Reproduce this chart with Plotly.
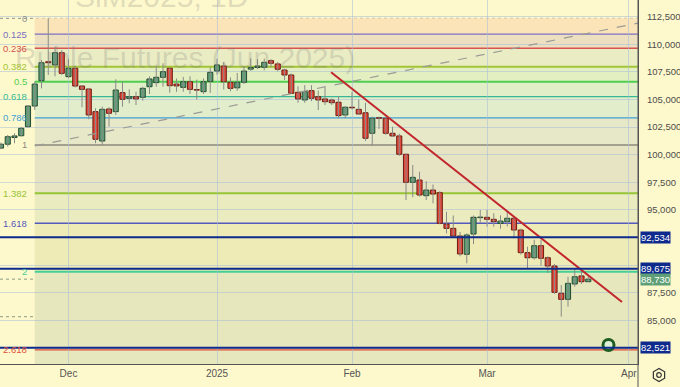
import math
import plotly.graph_objects as go
import pandas as pd

# ---------------- data ----------------
holidays = ["2025-01-01", "2025-01-02", "2025-01-07"]
dates = [d.strftime("%Y-%m-%d") for d in pd.bdate_range("2024-11-18", "2025-03-24")
         if d.strftime("%Y-%m-%d") not in holidays]
future_dates = [d.strftime("%Y-%m-%d") for d in pd.bdate_range("2025-03-25", "2025-04-30")]

open_ = [100600, 100950, 101560, 101720, 102540, 104410, 106700, 108420, 108130, 109240,
         107070, 107830, 106220, 105950, 103900, 101240, 104140, 103900, 105620, 105100,
         105250, 105200, 106160, 106530, 107010, 107830, 106400, 106100, 106610, 105900,
         105710, 106640, 107580, 108030, 106560, 106060, 106560, 107750, 107900, 107920,
         108520, 108220, 107670, 107220, 105650, 104960, 105800, 105250, 105050, 104950,
         104750, 103600, 104300, 104110, 103800, 101940, 103350, 103300, 101940, 101700,
         100040, 97500, 97710, 96290, 96800, 96560, 93720, 93330, 92640, 90980,
         92820, 94300, 94330, 94150, 93780, 93940, 94240, 93180, 91130, 90670,
         91760, 90670, 89920, 87450, 86900, 88290, 89020, 88500]
high = [101100, 101790, 101940, 102500, 104500, 106610, 108580, 112350, 109780, 109480,
        108650, 108050, 106300, 106050, 104200, 104350, 104300, 106830, 106610, 105920,
        105700, 106150, 107100, 108030, 108280, 107850, 106900, 107050, 107100, 106800,
        106900, 107900, 108700, 108400, 107000, 107400, 108000, 108730, 108650, 108700,
        108650, 108400, 107800, 107350, 106200, 106300, 106300, 105800, 106100, 105100,
        105300, 104400, 105700, 105000, 104710, 103450, 103450, 103450, 102540, 101900,
        100100, 99070, 98460, 97600, 97300, 96700, 94840, 94500, 93000, 92880,
        94500, 95000, 95000, 94700, 94500, 94900, 94390, 93300, 91670, 92300,
        92300, 90800, 90100, 88200, 88950, 89710, 89500, 89050]
low = [100500, 100730, 101040, 101650, 102450, 104050, 106010, 107220, 107100, 107220,
       106950, 106100, 104300, 103210, 101040, 100880, 102540, 103600, 104350, 104660,
       104500, 104900, 105500, 106160, 106160, 105620, 105700, 105700, 105500, 105000,
       105500, 105600, 107250, 105900, 105750, 105800, 106400, 107600, 107750, 107650,
       107900, 107550, 106770, 105500, 104700, 104700, 104850, 104050, 104500, 104500,
       103300, 103300, 104100, 103600, 101250, 100800, 102330, 101800, 101600, 99900,
       95900, 96150, 96200, 95900, 95600, 93700, 92880, 92500, 90800, 90170,
       91900, 93800, 93500, 93480, 93300, 93500, 92430, 90950, 89710, 90500,
       89950, 89300, 87400, 85330, 86240, 88050, 88300, 88500]
close = [100950, 101630, 101700, 102390, 104410, 106400, 108330, 108330, 109240, 107370,
         107830, 106220, 105920, 103600, 101400, 104110, 103750, 105860, 105020, 105250,
         105050, 106010, 106860, 107010, 107520, 106250, 106230, 106610, 105920, 105850,
         106610, 107460, 108130, 106610, 106010, 106560, 107580, 107900, 108030, 108370,
         108280, 107740, 107220, 105560, 105050, 105710, 105110, 104960, 104800, 104710,
         103540, 104300, 104250, 103690, 101490, 103300, 103300, 101940, 101700, 100040,
         97500, 97950, 96350, 96800, 96440, 93790, 93330, 92640, 91010, 92730,
         94330, 94350, 94150, 93940, 93990, 94240, 93180, 91130, 90670, 91760,
         90620, 89920, 87540, 86900, 88350, 88950, 88500, 88730]

fib_high, fib_low = 112350, 100880
fib_ratios = [0, 0.125, 0.236, 0.382, 0.5, 0.618, 0.786, 1, 1.382, 1.618, 2, 2.618]
fib_labels = ["0", "0.125", "0.236", "0.382", "0.5", "0.618", "0.786", "1", "1.382", "1.618", "2", "2.618"]
fib_colors = ["#8f8f8f", "#7b6fc0", "#d9534f", "#a2c435", "#4fcf4f", "#35b895", "#3f9fd6",
              "#8c8a7c", "#96c535", "#5558bd", "#45cf98", "#e0503c"]
band_colors = ["#fae4b8", "#ede0c0", "#eaedc3", "#e3eec1", "#e1eec7", "#e2edcc", "#e6e8c8",
               "#e6e4c3", "#eaebbf", "#efebb6", "#e6e7bc", "#e6e7bc"]

key_levels = [92534, 89675, 82521]
last_price = 88730
swing_low_line = 85330

trend_dash = {"x": [5, 100], "y": [100790, 112620]}
trend_red = {"x": [48.9, 92.0], "y": [107464, 86660]}
signal_point = {"x": [90], "y": [82770]}

price_ticks = [112500, 110000, 107500, 105000, 102500, 100000, 97500, 95000, 92500, 90000, 87500, 85000, 82500]
hidden_ticks = [92500, 90000, 82500]
month_labels = ["Dec", "2025", "Feb", "Mar", "Apr"]

# ---------------- figure ----------------
PX_W, PX_H = 638, 364
X_RANGE = [-0.148, 94.37]
Y_RANGE = [81045, 114012]
BG = "#fef9cc"
FONT = "Liberation Sans"

x = list(range(len(dates)))
all_dates = dates + future_dates
month_idx = []
for i in range(1, len(all_dates)):
    if all_dates[i][5:7] != all_dates[i - 1][5:7]:
        month_idx.append(i)
month_idx = month_idx[:len(month_labels)]

fig = go.Figure()

# wicks
wx, wy = [], []
for i in x:
    wx += [i, i, None]
    wy += [low[i], high[i], None]
fig.add_trace(go.Scatter(x=wx, y=wy, mode="lines", line=dict(color="#8a8a86", width=1),
                         hoverinfo="skip"))

up = [i for i in x if close[i] >= open_[i]]
dn = [i for i in x if close[i] < open_[i]]
fig.add_trace(go.Bar(x=up, y=[close[i] - open_[i] for i in up], base=[open_[i] for i in up],
                     width=0.76, marker=dict(color="#5c9f77", line=dict(color="#234a30", width=1))))
fig.add_trace(go.Bar(x=dn, y=[open_[i] - close[i] for i in dn], base=[close[i] for i in dn],
                     width=0.76, marker=dict(color="#e2493b", line=dict(color="#6e1a12", width=1))))

fig.add_trace(go.Scatter(x=trend_dash["x"], y=trend_dash["y"], mode="lines",
                         line=dict(color="#9b9b96", width=1.2, dash="dash"), hoverinfo="skip"))
fig.add_trace(go.Scatter(x=trend_red["x"], y=trend_red["y"], mode="lines",
                         line=dict(color="#c2252c", width=2), hoverinfo="skip"))
fig.add_trace(go.Scatter(x=signal_point["x"], y=signal_point["y"], mode="markers",
                         marker=dict(size=11, color="#dff0d8", line=dict(color="#1e5c22", width=3)),
                         hoverinfo="skip"))

shapes = []
fib_vals = [fib_high - r * (fib_high - fib_low) for r in fib_ratios]
fib_x0 = 5.0
for k in range(len(fib_vals)):
    top = fib_vals[k]
    bot = fib_vals[k + 1] if k + 1 < len(fib_vals) else Y_RANGE[0]
    shapes.append(dict(type="rect", xref="x", yref="y", x0=fib_x0, x1=X_RANGE[1], y0=bot, y1=top,
                       fillcolor=band_colors[k], line=dict(width=0), layer="below"))
for k, v in enumerate(fib_vals):
    if k == 0:
        shapes.append(dict(type="line", xref="paper", yref="y", x0=0, x1=1, y0=v, y1=v,
                           line=dict(color="#8f8f8f", width=1, dash="dot"), layer="below"))
        continue
    w = 2 if fib_ratios[k] in (0.382, 0.5, 1.382, 2) else 1.3
    shapes.append(dict(type="line", xref="x", yref="y", x0=fib_x0, x1=X_RANGE[1], y0=v, y1=v,
                       line=dict(color=fib_colors[k], width=w), layer="below"))

for v in [last_price, swing_low_line]:
    shapes.append(dict(type="line", xref="paper", yref="y", x0=0, x1=1, y0=v, y1=v,
                       line=dict(color="#8d9a84", width=1, dash="dot"), layer="below"))
for v in key_levels:
    shapes.append(dict(type="line", xref="paper", yref="y", x0=0, x1=1, y0=v, y1=v,
                       line=dict(color="#0d2a8c", width=2)))

# axis separator down to the bottom and settings icon
shapes.append(dict(type="line", xref="paper", yref="paper", x0=1, x1=1, y0=-23 / PX_H, y1=1,
                   line=dict(color="#555555", width=1)))
cx, cy, r = 659, 375, 6.5
pts = []
for a in range(6):
    ang = math.pi / 2 + a * math.pi / 3
    pts.append((cx + r * math.cos(ang), cy - r * math.sin(ang)))
path = "M " + " L ".join(f"{px / PX_W:.5f},{(PX_H - py) / PX_H:.5f}" for px, py in pts) + " Z"
shapes.append(dict(type="path", xref="paper", yref="paper", path=path,
                   line=dict(color="#333333", width=1.2)))
shapes.append(dict(type="circle", xref="paper", yref="paper",
                   x0=(cx - 2.3) / PX_W, x1=(cx + 2.3) / PX_W,
                   y0=(PX_H - cy - 2.3) / PX_H, y1=(PX_H - cy + 2.3) / PX_H,
                   line=dict(color="#333333", width=1.2)))

annotations = []
# watermark
annotations.append(dict(xref="paper", yref="paper", x=357 / PX_W, y=1 - 57 / PX_H,
                        xanchor="right", yanchor="middle", showarrow=False,
                        text="Ruble Futures (Jun 2025)",
                        font=dict(size=30, color="rgba(120,120,120,0.24)", family=FONT)))
annotations.append(dict(xref="paper", yref="paper", x=250 / PX_W, y=1 + 4 / PX_H,
                        xanchor="right", yanchor="middle", showarrow=False,
                        text="SiM2025, 1D",
                        font=dict(size=30, color="rgba(120,120,120,0.24)", family=FONT)))
for k, v in enumerate(fib_vals):
    annotations.append(dict(xref="paper", yref="y", x=29 / PX_W, y=v, xanchor="right",
                            yanchor="middle", showarrow=False, text=fib_labels[k],
                            font=dict(size=9.5, color=fib_colors[k], family=FONT)))
for v in key_levels:
    annotations.append(dict(xref="paper", yref="y", x=1, xshift=2, y=v, xanchor="left",
                            yanchor="middle", showarrow=False, text=f"{v:,}", bgcolor="#0d2a8c",
                            borderpad=0, font=dict(size=9.5, color="white", family=FONT)))
annotations.append(dict(xref="paper", yref="y", x=1, xshift=2, y=last_price, xanchor="left",
                        yanchor="middle", showarrow=False, text=f"{last_price:,}", bgcolor="#5f9f78",
                        borderpad=0, font=dict(size=9.5, color="white", family=FONT)))

fig.update_layout(
    width=680, height=387, margin=dict(l=0, r=680 - PX_W, t=0, b=387 - PX_H),
    paper_bgcolor=BG, plot_bgcolor=BG, showlegend=False, barmode="overlay",
    shapes=shapes, annotations=annotations, hovermode=False,
    font=dict(family=FONT, size=10, color="#4d4d4d"),
    xaxis=dict(range=X_RANGE, tickmode="array", tickvals=month_idx, ticktext=month_labels,
               showgrid=True, gridcolor="rgba(170,190,215,0.55)", gridwidth=1, zeroline=False,
               showline=True, linecolor="#555555", linewidth=1, ticks="", automargin=False,
               tickfont=dict(size=10, color="#555555")),
    yaxis=dict(range=Y_RANGE, side="right", tickmode="array", tickvals=price_ticks,
               ticktext=["" if t in hidden_ticks else f"{t:,}" for t in price_ticks],
               showgrid=True, gridcolor="rgba(170,190,215,0.55)", gridwidth=1, zeroline=False,
               showline=True, linecolor="#555555", linewidth=1, ticks="", ticklabelstandoff=6,
               automargin=False, tickfont=dict(size=9.5, color="#4d4d4d")),
)

fig.write_html("out.html", config={"displayModeBar": False, "staticPlot": True},
               post_script="document.body.style.margin='0';document.body.style.overflow='hidden';")
